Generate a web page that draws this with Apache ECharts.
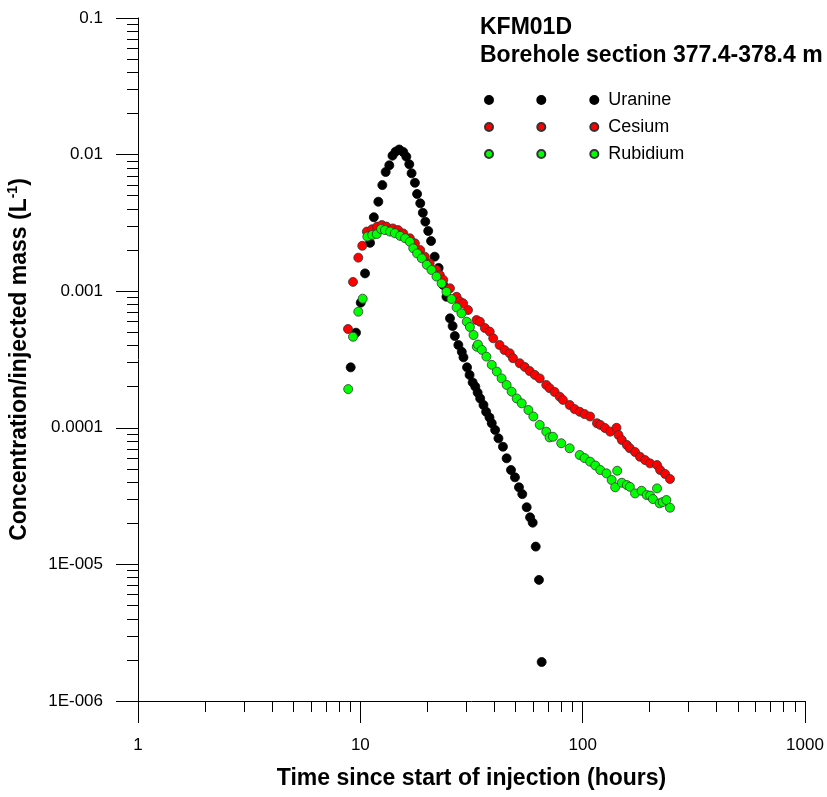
<!DOCTYPE html>
<html>
<head>
<meta charset="utf-8">
<script src="https://cdn.jsdelivr.net/npm/echarts@6/dist/echarts.min.js"></script>
<style>
html, body { margin: 0; padding: 0; background: #fff; }
#main { width: 827px; height: 797px; }
</style>
</head>
<body>
<div id="main"></div>
<script>
// time (hours), concentration/injected mass (1/L)
var uranine = [
    [9.05, 0.000277], [9.56, 0.000497], [10.04, 0.000824], [10.5, 0.00135], [11.06, 0.00226],
    [11.5, 0.00348], [12.05, 0.00452], [12.56, 0.00598], [13.0, 0.00746], [13.5, 0.00835],
    [13.95, 0.00982], [14.4, 0.0105], [14.96, 0.0109], [15.6, 0.01045], [16.1, 0.00966],
    [16.6, 0.0085], [17.0, 0.0073], [17.6, 0.00622], [18.0, 0.00515], [18.6, 0.0044],
    [19.1, 0.00375], [19.6, 0.00323], [20.2, 0.00276], [20.8, 0.00233], [21.6, 0.00179],
    [22.5, 0.00148], [23.6, 0.00111], [24.4, 0.00091], [25.3, 0.000633], [26.0, 0.000556],
    [26.6, 0.00047], [27.6, 0.000404], [28.6, 0.00036], [29.1, 0.000328], [30.2, 0.000277],
    [31.0, 0.000244], [32.0, 0.000215], [32.9, 0.0002], [33.7, 0.000181], [34.6, 0.000164],
    [35.8, 0.000147], [36.8, 0.000131], [38.1, 0.000119], [39.0, 0.000108], [40.4, 9.64e-5],
    [41.8, 8.37e-5], [43.8, 7.27e-5], [45.5, 5.98e-5], [47.6, 4.91e-5], [49.6, 4.34e-5],
    [51.7, 3.67e-5], [53.5, 3.27e-5], [56.0, 2.62e-5], [58.0, 2.21e-5], [59.6, 2.02e-5],
    [61.5, 1.35e-5], [63.6, 7.7e-6], [65.4, 1.93e-6]
];
var cesium = [
    [8.80, 0.000529], [9.27, 0.00117], [9.79, 0.00176], [10.2, 0.00215], [10.7, 0.00273],
    [11.3, 0.00284], [11.9, 0.00297], [12.5, 0.00305], [13.1, 0.00297], [14.0, 0.00288],
    [14.8, 0.0028], [15.6, 0.00265], [16.7, 0.00244], [17.6, 0.00224], [18.6, 0.002],
    [19.5, 0.00179], [20.5, 0.0016], [22.0, 0.00143], [22.8, 0.00131], [23.6, 0.00121],
    [25.3, 0.00105], [27.1, 0.00091], [28.0, 0.00084], [29.0, 0.000815], [30.5, 0.000728],
    [33.3, 0.000615], [34.5, 0.000598], [36.3, 0.000538], [38.2, 0.000506], [39.6, 0.000452],
    [42.3, 0.000404], [44.5, 0.000371], [47.0, 0.000351], [48.6, 0.000323], [52.1, 0.000297],
    [54.9, 0.000279], [57.8, 0.00026], [60.9, 0.000244], [64.1, 0.00023], [68.6, 0.000206],
    [71.0, 0.000195], [74.8, 0.000183], [78.8, 0.000169], [81.5, 0.00016], [87.4, 0.000147],
    [92.0, 0.000137], [97.0, 0.000131], [102, 0.000126], [108, 0.000121], [116, 0.000108],
    [120, 0.000105], [126, 9.97e-5], [133, 9.37e-5], [142, 0.0001], [145, 8.86e-5],
    [150, 8.14e-5], [158, 7.49e-5], [163, 7.08e-5], [172, 6.65e-5], [181, 6.14e-5],
    [191, 5.8e-5], [201, 5.49e-5], [216, 5.34e-5], [223, 4.91e-5], [235, 4.59e-5],
    [247, 4.22e-5]
];
var rubidium = [
    [8.82, 0.000192], [9.27, 0.000464], [9.79, 0.000708], [10.25, 0.000881], [10.75, 0.00251],
    [11.3, 0.00258], [11.85, 0.00262], [12.4, 0.00285], [12.9, 0.0028], [13.6, 0.00273],
    [14.3, 0.00266], [15.1, 0.00254], [15.9, 0.00244], [16.7, 0.0023], [17.3, 0.00206],
    [18.0, 0.00189], [18.9, 0.00174], [19.9, 0.00156], [20.9, 0.00143], [22.0, 0.00128],
    [23.2, 0.00114], [24.4, 0.00099], [25.7, 0.000877], [27.1, 0.00076], [28.5, 0.000689],
    [30.1, 0.000598], [31.1, 0.000547], [32.3, 0.000478], [33.4, 0.000392], [33.8, 0.000407],
    [35.2, 0.000372], [36.9, 0.000332], [39.0, 0.000289], [41.1, 0.000258], [43.2, 0.00023],
    [45.5, 0.000206], [47.9, 0.000184], [50.5, 0.000164], [53.2, 0.000151], [57.0, 0.000135],
    [60.0, 0.000121], [64.1, 0.000105], [68.6, 9.37e-5], [71.0, 8.5e-5], [73.5, 8.6e-5],
    [80.1, 7.71e-5], [87.4, 7.08e-5], [97.0, 6.32e-5], [102, 6.0e-5], [108, 5.65e-5],
    [114, 5.3e-5], [120, 4.91e-5], [128, 4.64e-5], [135, 4.15e-5], [140, 3.67e-5],
    [143, 4.85e-5], [150, 3.96e-5], [158, 3.81e-5], [163, 3.7e-5], [172, 3.31e-5],
    [184, 3.46e-5], [194, 3.22e-5], [201, 3.19e-5], [207, 3.01e-5], [216, 3.6e-5],
    [222, 2.8e-5], [229, 2.86e-5], [238, 2.96e-5], [247, 2.6e-5]
];

var seriesNames = ['Uranine', 'Cesium', 'Rubidium'];
var seriesColors = ['#000000', '#ff0000', '#00ff00'];

var xTickLabels = ['1', '10', '100', '1000'];
var yTickLabels = ['1E-006', '1E-005', '0.0001', '0.001', '0.01', '0.1'];

// minor ticks 2..9 within each decade
var xMinor = [];
for (var d = 0; d < 3; d++) {
    for (var k = 2; k <= 9; k++) xMinor.push(d + Math.log10(k));
}
var yMinor = [];
for (var e = -6; e < -1; e++) {
    for (var m = 2; m <= 9; m++) yMinor.push(e + Math.log10(m));
}

var font = "'Liberation Sans', Arial, sans-serif";

var chartDom = document.getElementById('main');
var myChart = echarts.init(chartDom, null, { renderer: 'canvas' });

// three dots in a row for each legend entry
var legendIcon = 'path://M0,4A4,4,0,1,1,8,4A4,4,0,1,1,0,4Z' +
    'M52.3,4A4,4,0,1,1,60.3,4A4,4,0,1,1,52.3,4Z' +
    'M105.3,4A4,4,0,1,1,113.3,4A4,4,0,1,1,105.3,4Z';

var option = {
    animation: false,
    backgroundColor: '#fff',
    title: {
        text: 'KFM01D\nBorehole section 377.4-378.4 m',
        left: 480,
        top: 14,
        padding: 0,
        textStyle: {
            fontFamily: font,
            fontSize: 23,
            fontWeight: 'bold',
            color: '#000',
            lineHeight: 28
        }
    },
    legend: {
        orient: 'vertical',
        left: 484,
        top: 91,
        padding: 0,
        itemWidth: 113.3,
        itemHeight: 8,
        itemGap: 9,
        icon: legendIcon,
        data: seriesNames,
        textStyle: {
            fontFamily: font,
            fontSize: 18,
            color: '#000',
            padding: [0, 0, 0, 5]
        }
    },
    grid: {
        left: 138,
        right: 22,
        top: 18,
        bottom: 96,
        containLabel: false,
        outerBoundsMode: 'none'
    },
    xAxis: [
        {
            type: 'log',
            logBase: 10,
            min: 1,
            max: 1000,
            name: 'Time since start of injection (hours)',
            nameLocation: 'middle',
            nameGap: 66,
            nameTextStyle: { fontFamily: font, fontSize: 23, fontWeight: 'bold', color: '#000' },
            axisLine: { onZero: false, lineStyle: { color: '#000', width: 1 } },
            axisTick: { length: 22, lineStyle: { color: '#000' } },
            axisLabel: {
                margin: 36,
                fontFamily: font,
                fontSize: 17,
                color: '#000',
                formatter: function (v) {
                    return xTickLabels[Math.round(Math.log10(v))];
                }
            },
            splitLine: { show: false }
        },
        {
            type: 'value',
            min: 0,
            max: 3,
            position: 'bottom',
            axisLine: { show: false, onZero: false },
            axisTick: { show: true, length: 11, customValues: xMinor, lineStyle: { color: '#000' } },
            axisLabel: { show: false },
            splitLine: { show: false }
        }
    ],
    yAxis: [
        {
            type: 'log',
            logBase: 10,
            min: 1e-6,
            max: 0.1,
            name: 'Concentration/injected mass (L{sup|-1})',
            nameLocation: 'middle',
            nameGap: 105,
            nameTextStyle: {
                fontFamily: font,
                fontSize: 23,
                fontWeight: 'bold',
                color: '#000',
                lineHeight: 27,
                rich: {
                    sup: { fontFamily: font, fontSize: 14, fontWeight: 'bold', color: '#000', verticalAlign: 'top', lineHeight: 27 }
                }
            },
            axisLine: { onZero: false, lineStyle: { color: '#000', width: 1 } },
            axisTick: { length: 22, lineStyle: { color: '#000' } },
            axisLabel: {
                margin: 35,
                fontFamily: font,
                fontSize: 17,
                color: '#000',
                formatter: function (v) {
                    return yTickLabels[Math.round(Math.log10(v)) + 6];
                }
            },
            splitLine: { show: false }
        },
        {
            type: 'value',
            min: -6,
            max: -1,
            position: 'left',
            axisLine: { show: false, onZero: false },
            axisTick: { show: true, length: 11, customValues: yMinor, lineStyle: { color: '#000' } },
            axisLabel: { show: false },
            splitLine: { show: false }
        }
    ],
    series: [uranine, cesium, rubidium].map(function (d, i) {
        return {
            name: seriesNames[i],
            type: 'scatter',
            xAxisIndex: 0,
            yAxisIndex: 0,
            symbol: 'circle',
            symbolSize: 9,
            data: d,
            itemStyle: {
                color: seriesColors[i],
                borderColor: i === 0 ? '#000' : '#333',
                borderWidth: 0.8,
                opacity: 1
            }
        };
    })
};

option && myChart.setOption(option);
</script>
</body>
</html>
